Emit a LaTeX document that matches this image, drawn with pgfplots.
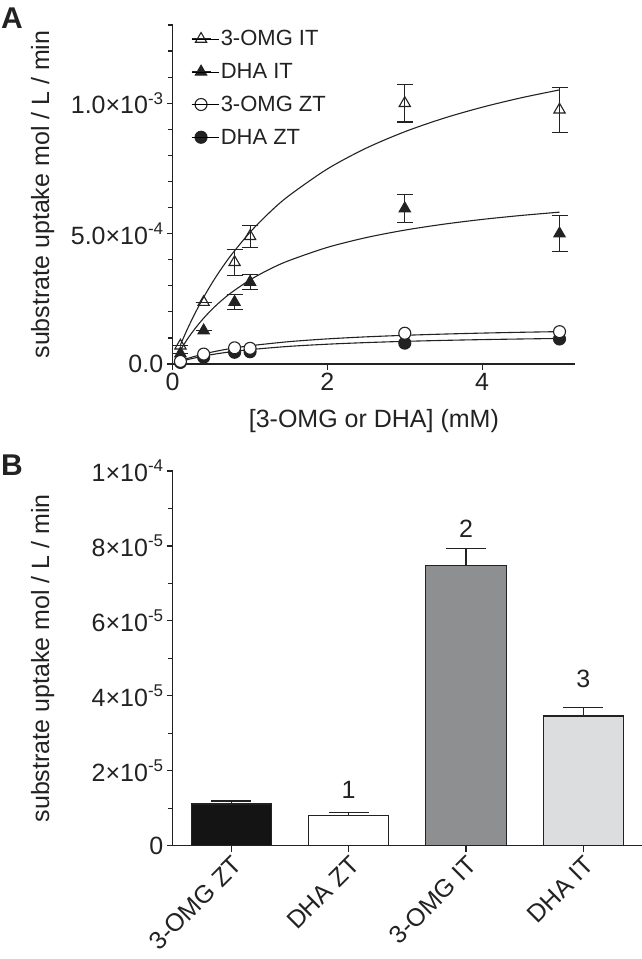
\documentclass[border=0pt]{standalone}
\usepackage{pgfplots}
\pgfplotsset{compat=1.18}
\usepackage{fontspec}
\setmainfont{Liberation Sans}
\definecolor{ink}{HTML}{222222}
\definecolor{barA}{HTML}{141414}
\definecolor{barC}{HTML}{8E8F91}
\definecolor{barD}{HTML}{DCDDDF}
\newcommand\sups[1]{\raisebox{0.75ex}{\fontsize{17}{17}\selectfont #1}}
\newcommand\fs{\fontsize{25}{29}\selectfont}
\pgfplotsset{
  common/.style={
    scale only axis,
    axis x line*=bottom, axis y line*=left,
    axis line style={ink, line width=1.4pt, -},
    tick style={ink, line width=1.2pt},
    tick align=outside,
    major tick length=6pt, minor tick length=5pt,
    tick label style={font=\fs, text=ink},
    label style={font=\fs, text=ink},
    /pgf/number format/assume math mode=true,
    scaled y ticks=false,
    clip=false,
  },
  tailmark/.style={legend image code/.code={
    \draw[ink,line width=1.1pt] (0pt,0pt)--(19pt,0pt);
    \draw[##1] plot coordinates {(9.5pt,0pt)};
    \path (0pt,0pt)--(27pt,0pt);}},
  fitline/.style={ink, line width=1.1pt, smooth, no marks, forget plot},
}
\begin{document}
\begin{tikzpicture}
\useasboundingbox (0pt,0pt) rectangle (642pt,959pt);
\begin{axis}[common, at={(172.7pt,595pt)}, anchor=south west,
  width=402.3pt, height=339pt,
  xmin=0, xmax=5.2, ymin=0, ymax=1.3e-3,
  xtick={0,2,4},
  ytick={0,0.0005,0.001},
  yticklabels={0.0, 5.0×10\sups{-4}, 1.0×10\sups{-3}},
  minor ytick={1e-4,2e-4,3e-4,4e-4,6e-4,7e-4,8e-4,9e-4,1.1e-3,1.2e-3,1.3e-3},
  xlabel={[3-OMG or DHA] (mM)},
  ylabel={substrate uptake mol / L / min},
  xlabel style={at={(axis description cs:0.5,-0.168)}, anchor=center},
  ylabel style={at={(axis description cs:-0.323,0.5)}, anchor=center},
  legend style={at={(axis description cs:0.045,0.99)}, anchor=north west,
    draw=none, fill=none, font=\fontsize{22}{26}\selectfont, text=ink,
    row sep=12pt, inner sep=0pt},
  legend cell align=left,
]
\addlegendimage{tailmark, mark=triangle, mark size=6.5pt, mark options={ink, fill=white, line width=1.1pt}}
\addlegendentry{3-OMG IT}
\addlegendimage{tailmark, mark=triangle*, mark size=6.5pt, mark options={ink, fill=ink, line width=1.1pt}}
\addlegendentry{DHA IT}
\addlegendimage{tailmark, mark=*, mark size=6pt, mark options={ink, fill=white, line width=1.1pt}}
\addlegendentry{3-OMG ZT}
\addlegendimage{tailmark, mark=*, mark size=6pt, mark options={ink, fill=ink, line width=1.1pt}}
\addlegendentry{DHA ZT}
% fitted curves
\addplot[fitline] coordinates {(0.1,0.0738e-3)(0.2,0.1405e-3)(0.3,0.2009e-3)(0.4,0.256e-3)(0.5,0.3064e-3)(0.6,0.3527e-3)(0.75,0.4154e-3)(1,0.5053e-3)(1.25,0.5806e-3)(1.5,0.6448e-3)(2,0.7481e-3)(2.5,0.8276e-3)(3,0.8907e-3)(3.5,0.9421e-3)(4,0.9846e-3)(4.5,1.0205e-3)(5,1.0511e-3)};
\addplot[fitline] coordinates {(0.1,0.0536e-3)(0.2,0.0999e-3)(0.3,0.1402e-3)(0.4,0.1757e-3)(0.5,0.2071e-3)(0.6,0.2352e-3)(0.75,0.2720e-3)(1,0.3226e-3)(1.25,0.3630e-3)(1.5,0.3962e-3)(2,0.4472e-3)(2.5,0.4847e-3)(3,0.5134e-3)(3.5,0.5360e-3)(4,0.5544e-3)(4.5,0.5695e-3)(5,0.5823e-3)};
\addplot[fitline] coordinates {(0.1,0.0118e-3)(0.2,0.0220e-3)(0.4,0.0385e-3)(0.6,0.0513e-3)(0.8,0.0616e-3)(1,0.0700e-3)(1.5,0.0856e-3)(2,0.0963e-3)(2.5,0.1041e-3)(3,0.1100e-3)(3.5,0.1147e-3)(4,0.1185e-3)(4.5,0.1216e-3)(5,0.1242e-3)};
\addplot[fitline] coordinates {(0.1,0.0093e-3)(0.2,0.0174e-3)(0.4,0.0304e-3)(0.6,0.0405e-3)(0.8,0.0486e-3)(1,0.0552e-3)(1.5,0.0675e-3)(2,0.0759e-3)(2.5,0.0821e-3)(3,0.0868e-3)(3.5,0.0905e-3)(4,0.0935e-3)(4.5,0.0959e-3)(5,0.0980e-3)};
% data points
\addplot[forget plot, only marks, mark=triangle, mark size=6.5pt, mark options={ink, fill=white, line width=1.1pt},
  error bars/.cd, y dir=both, y explicit, error bar style={ink, line width=1.1pt},
  error mark options={ink, line width=1.1pt, mark size=8pt, rotate=90}]
  coordinates {(0.1,0.07e-3) +- (0,0) (0.4,0.237e-3) +- (0,0) (0.8,0.39e-3) +- (0,0.05e-3) (1,0.49e-3) +- (0,0.042e-3) (3,1.0e-3) +- (0,0.072e-3) (5,0.975e-3) +- (0,0.087e-3)};
\addplot[forget plot, only marks, mark=triangle*, mark size=6.5pt, mark options={ink, fill=ink, line width=1.1pt},
  error bars/.cd, y dir=both, y explicit, error bar style={ink, line width=1.1pt},
  error mark options={ink, line width=1.1pt, mark size=8pt, rotate=90}]
  coordinates {(0.1,0.04e-3) +- (0,0) (0.4,0.128e-3) +- (0,0) (0.8,0.237e-3) +- (0,0.028e-3) (1,0.314e-3) +- (0,0.03e-3) (3,0.596e-3) +- (0,0.053e-3) (5,0.5e-3) +- (0,0.07e-3)};
\addplot[forget plot, only marks, mark=*, mark size=6pt, mark options={ink, fill=ink, line width=1.1pt}]
  coordinates {(0.1,0.006e-3)(0.4,0.026e-3)(0.8,0.045e-3)(1,0.047e-3)(3,0.08e-3)(5,0.096e-3)};
\addplot[forget plot, only marks, mark=*, mark size=6pt, mark options={ink, fill=white, line width=1.1pt}]
  coordinates {(0.1,0.01e-3)(0.4,0.038e-3)(0.8,0.062e-3)(1,0.06e-3)(3,0.118e-3)(5,0.124e-3)};
\end{axis}
\node[anchor=north west, inner sep=0pt, font=\bfseries\fontsize{30}{30}\selectfont, text=ink] at (1pt,951pt) {A};
\node[anchor=north west, inner sep=0pt, font=\bfseries\fontsize{30}{30}\selectfont, text=ink] at (1pt,504pt) {B};
\begin{axis}[common, at={(172.7pt,113.3pt)}, anchor=south west,
  width=469.3pt, height=374.7pt,
  xmin=-0.5, xmax=3.5, ymin=0, ymax=1e-4,
  xtick={0,1,2,3},
  xticklabels={3-OMG ZT, DHA ZT, 3-OMG IT, DHA IT},
  xticklabel style={rotate=45, anchor=north east, inner sep=2pt},
  ytick={0,2e-5,4e-5,6e-5,8e-5,1e-4},
  yticklabels={0, 2×10\sups{-5}, 4×10\sups{-5}, 6×10\sups{-5}, 8×10\sups{-5}, 1×10\sups{-4}},
  minor ytick={1e-5,3e-5,5e-5,7e-5,9e-5},
  ylabel={substrate uptake mol / L / min},
  ylabel style={at={(axis description cs:-0.277,0.5)}, anchor=center},
  ybar, bar width=0.684, bar shift=0pt,
]
\addplot[fill=barA, draw=ink, line width=1.2pt,
  error bars/.cd, y dir=plus, y explicit, error bar style={ink, line width=1.2pt},
  error mark options={ink, line width=1.2pt, mark size=20pt, rotate=90}]
  coordinates {(0,1.113e-5) +- (0,0.08e-5)};
\addplot[fill=white, draw=ink, line width=1.2pt,
  error bars/.cd, y dir=plus, y explicit, error bar style={ink, line width=1.2pt},
  error mark options={ink, line width=1.2pt, mark size=20pt, rotate=90}]
  coordinates {(1,0.80e-5) +- (0,0.08e-5)};
\addplot[fill=barC, draw=ink, line width=1.2pt,
  error bars/.cd, y dir=plus, y explicit, error bar style={ink, line width=1.2pt},
  error mark options={ink, line width=1.2pt, mark size=20pt, rotate=90}]
  coordinates {(2,7.47e-5) +- (0,0.47e-5)};
\addplot[fill=barD, draw=ink, line width=1.2pt,
  error bars/.cd, y dir=plus, y explicit, error bar style={ink, line width=1.2pt},
  error mark options={ink, line width=1.2pt, mark size=20pt, rotate=90}]
  coordinates {(3,3.46e-5) +- (0,0.23e-5)};
\node[font=\fs, text=ink] at (axis cs:1,1.49e-5) {1};
\node[font=\fs, text=ink] at (axis cs:2,8.47e-5) {2};
\node[font=\fs, text=ink] at (axis cs:3,4.45e-5) {3};
\end{axis}
\end{tikzpicture}
\end{document}
